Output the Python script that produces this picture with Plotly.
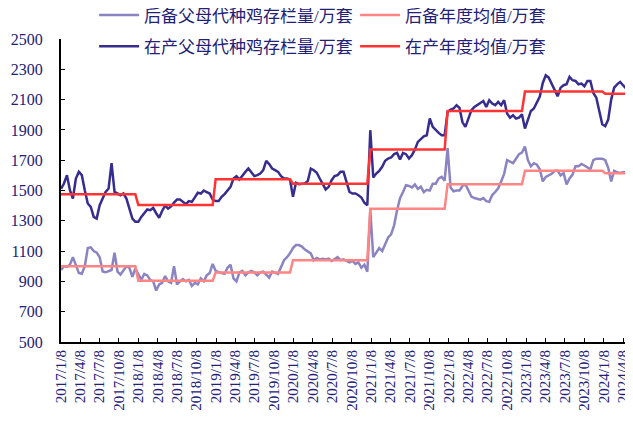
import plotly.graph_objects as go
import pandas as pd

# biweekly readings, 2017/1/8 .. 2024/5/19
dates = pd.date_range('2017-01-08', periods=193, freq='14D')

houbei = [975, 1000, 995, 1010, 1060, 1010, 955, 950, 1000, 1120, 1125, 1100, 1090, 1060, 965, 960, 970, 975, 1090, 965, 945, 975, 1000, 990, 930, 985,
          945, 910, 950, 940, 910, 900, 840, 880, 890, 935, 900, 890, 1000, 880, 900, 915, 900, 910, 870, 890, 880, 920, 900, 940, 955, 1015,
          970, 960, 955, 950, 990, 1010, 920, 900, 960, 970, 940, 960, 970, 960, 940, 960, 965, 945, 925, 965, 960, 950, 995, 1040, 1060, 1085,
          1120, 1140, 1140, 1130, 1110, 1100, 1085, 1040, 1055, 1045, 1050, 1045, 1050, 1035, 1045, 1060, 1040, 1045, 1035, 1025, 1035, 1015, 1025, 990, 1010, 964,
          1370, 1060, 1090, 1120, 1100, 1150, 1190, 1210, 1270, 1370, 1450, 1490, 1535, 1530, 1520, 1540, 1510, 1525, 1490, 1505, 1500, 1545, 1545, 1580, 1590, 1565,
          1780, 1520, 1495, 1500, 1500, 1530, 1540, 1500, 1460, 1450, 1445, 1440, 1450, 1430, 1425, 1470, 1490, 1515, 1560, 1610, 1700, 1690, 1680, 1710, 1740, 1750,
          1790, 1700, 1660, 1680, 1670, 1640, 1560, 1590, 1600, 1610, 1630, 1630, 1600, 1615, 1540, 1580, 1605, 1660, 1660, 1675, 1665, 1650, 1640, 1700, 1710, 1710, 1710,
          1700, 1650, 1560, 1630, 1620, 1615, 1620, 1620, 1590, 1520]

zaichan = [1511, 1546, 1601, 1502, 1447, 1579, 1623, 1601, 1502, 1414, 1392, 1326, 1315, 1403, 1447, 1491, 1513, 1680, 1491, 1480, 1469, 1480, 1447, 1381, 1315, 1293,
           1293, 1326, 1350, 1375, 1370, 1385, 1350, 1320, 1365, 1400, 1380, 1395, 1420, 1440, 1440, 1425, 1410, 1430, 1425, 1455, 1485, 1480, 1500, 1490, 1480, 1440,
           1430, 1430, 1458, 1476, 1498, 1524, 1579, 1595, 1573, 1601, 1623, 1645, 1616, 1595, 1601, 1612, 1634, 1696, 1674, 1645, 1634, 1623, 1595, 1579, 1579, 1573,
           1458, 1551, 1542, 1546, 1546, 1564, 1645, 1634, 1617, 1579, 1542, 1507, 1524, 1568, 1595, 1601, 1623, 1623, 1557, 1491, 1480, 1480, 1469, 1454, 1419, 1403,
           1898, 1586, 1612, 1630, 1656, 1696, 1711, 1718, 1740, 1748, 1704, 1748, 1740, 1711, 1733, 1770, 1821, 1843, 1858, 1865, 1975, 1920, 1898, 1880, 1865, 1865,
           2019, 2034, 2041, 2063, 2045, 1950, 1920, 1981, 2030, 2052, 2063, 2078, 2091, 2052, 2096, 2074, 2063, 2085, 2063, 2096, 2008, 1981, 1997, 1975, 1981, 2003,
           1909, 1964, 2025, 2041, 2078, 2120, 2210, 2261, 2245, 2206, 2157, 2122, 2179, 2195, 2201, 2250, 2228, 2223, 2201, 2206, 2188, 2223, 2223, 2144, 2113, 2030, 1937,
           1924, 1968, 2100, 2179, 2201, 2217, 2195, 2173, 2210, 2239]

years = [2017, 2018, 2019, 2020, 2021, 2022, 2023, 2024]
houbei_avg = [1000, 905, 958, 1040, 1380, 1542, 1630, 1614]
zaichan_avg = [1475, 1405, 1575, 1545, 1770, 2025, 2153, 2138]

hb_avg = [houbei_avg[years.index(d.year)] for d in dates]
zc_avg = [zaichan_avg[years.index(d.year)] for d in dates]

tick_dates = [pd.Timestamp('2017-01-08') + pd.DateOffset(months=3 * k) for k in range(30)]
tick_text = [f"{d.year}/{d.month}/{d.day}" for d in tick_dates]

navy = '#232078'
font_family = 'Liberation Serif, "Noto Sans CJK SC"'

fig = go.Figure()
fig.add_trace(go.Scatter(x=dates, y=houbei, mode='lines', name='后备父母代种鸡存栏量/万套',
                         line=dict(color='#8A84C2', width=2.5), legend='legend'))
fig.add_trace(go.Scatter(x=dates, y=hb_avg, mode='lines', name='后备年度均值/万套',
                         line=dict(color='#FF8585', width=2.5), legend='legend2'))
fig.add_trace(go.Scatter(x=dates, y=zaichan, mode='lines', name='在产父母代种鸡存栏量/万套',
                         line=dict(color='#372D8F', width=2.5), legend='legend3'))
fig.add_trace(go.Scatter(x=dates, y=zc_avg, mode='lines', name='在产年度均值/万套',
                         line=dict(color='#FF3333', width=2.5), legend='legend4'))
for t in fig.data:
    t.showlegend = True

def leg(x, y):
    return dict(orientation='h', xanchor='left', yanchor='middle', x=x, y=y,
                font=dict(family=font_family, size=17, color=navy),
                bgcolor='rgba(0,0,0,0)', itemwidth=40, visible=True)

col1, col2 = 0.058, 0.515
row1, row2 = 1.078, 0.975

# the page body adds an 8px margin, so the figure is 8px smaller than the window
fig.update_layout(
    width=625, height=413,
    showlegend=True,
    margin=dict(l=53, r=1, t=31, b=79, autoexpand=False),
    paper_bgcolor='white', plot_bgcolor='white',
    font=dict(family=font_family, color=navy),
    legend=leg(col1, row1), legend2=leg(col2, row1),
    legend3=leg(col1, row2), legend4=leg(col2, row2),
    xaxis=dict(range=['2017-01-08', '2024-05-19'], tickvals=tick_dates, ticktext=tick_text,
               tickangle=-90, tickfont=dict(size=15, color=navy), ticks='inside', ticklen=4,
               tickcolor='black', showline=True, linecolor='black', linewidth=2,
               showgrid=False, zeroline=False),
    yaxis=dict(range=[500, 2500], dtick=200, tick0=500, tickfont=dict(size=16, color=navy),
               ticks='inside', ticklen=4, tickcolor='black', showline=True, linecolor='black',
               linewidth=2, showgrid=False, zeroline=False, ticklabelstandoff=13),
)

fig.write_html("out.html")
